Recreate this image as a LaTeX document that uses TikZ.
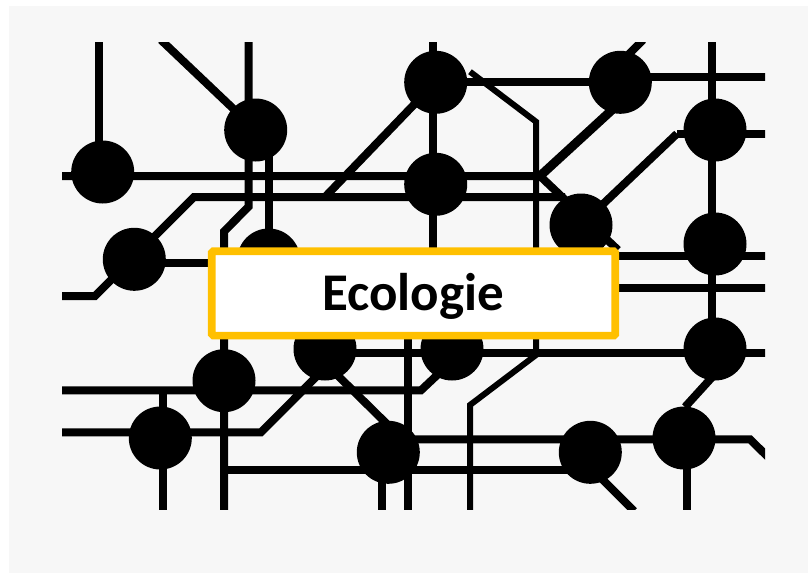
\documentclass[tikz,border=0pt]{standalone}
\usepackage{fontspec}
\setmainfont{Carlito}
\tikzset{
  bg/.style={fill=bgGray,draw=none},
  wire/.style={line width=8pt,line join=miter},
  thinwire/.style={line width=6pt,line join=miter},
  hub/.style={circle,fill=black,draw=none,minimum size=63pt,inner sep=0pt},
  titlebox/.style={draw=boxGold,fill=white,line width=7.7pt,rounded corners=1.5pt,minimum width=403.4pt,minimum height=84.4pt,inner sep=0pt},
  titletext/.style={font=\fontsize{53}{55}\selectfont\bfseries,text=black,inner sep=0pt,anchor=base}
}
\definecolor{bgGray}{HTML}{F7F7F7}
\definecolor{boxGold}{HTML}{FFC000}
\begin{document}
\begin{tikzpicture}[x=1pt,y=-1pt]
\useasboundingbox (0,0) rectangle (808,573);
\fill[white] (0,0) rectangle (808,573);
\fill[bg] (9,6) rectangle (808,573);
\begin{scope}
\clip (62,42) rectangle (765,509);
\coordinate (hA) at (102.7,172);
\coordinate (hB) at (255.7,130);
\coordinate (hC) at (435.7,82.3);
\coordinate (hD) at (435.7,184.3);
\coordinate (hE) at (620.3,82.3);
\coordinate (hF) at (715,130);
\coordinate (hG) at (581,225);
\coordinate (hH) at (715,244);
\coordinate (hI) at (134.3,259.3);
\coordinate (hJ) at (268.7,260);
\coordinate (hK) at (224,380.7);
\coordinate (hL) at (325,349);
\coordinate (hM) at (160.3,438);
\coordinate (hN) at (388.3,452.3);
\coordinate (hO) at (452,349);
\coordinate (hP) at (715,349);
\coordinate (hQ) at (590.3,452.3);
\coordinate (hR) at (684,438);
% vertical and top wires
\draw[wire] (98.7,40) -- (98.7,172);
\draw[wire] (161,40) -- (hB);
\draw[wire] (248.7,40) -- (248.7,206.5) -- (224,231.5) -- (224,511);
\draw[wire] (268.7,130) -- (268.7,260);
\draw[wire] (432.7,40) -- (432.7,349);
\draw[wire] (711.7,40) -- (711.7,349);
\draw[wire] (408,300) -- (408,511);
\draw[wire] (163,390) -- (163,511);
\draw[wire] (382.3,452) -- (382.3,511);
\draw[wire] (687,438) -- (687,511);
% horizontals and diagonals
\draw[wire] (60,176) -- (540,176) -- (618,250);
\draw[wire,line width=9pt] (625,98) -- (540,176);
\draw[wire] (643,40) -- (620,63);
\draw[wire] (60,296) -- (95,296) -- (194,197) -- (565,197);
\draw[wire] (325,197) -- (430,88);
\draw[wire] (hI) -- (134.3,263) -- (268.7,263);
\draw[wire] (hC) -- (hE);
\draw[wire] (620,77) -- (767,77);
\draw[wire] (677,133.7) -- (767,133.7);
\draw[wire] (677,133.7) -- (hG);
\draw[wire] (581,256) -- (767,256);
\draw[wire] (581,288.3) -- (767,288.3);
\draw[wire] (325,352.7) -- (767,352.7);
\draw[wire] (60,390.3) -- (421,390.3) -- (450,363);
\draw[wire] (60,432.3) -- (261,432.3) -- (325,368);
\draw[wire] (325,363) -- (390,427);
\draw[wire] (224,469.7) -- (590,469.7);
\draw[wire] (388,439.3) -- (750,439.3) -- (769,458);
\draw[wire] (590,467) -- (634,511);
\draw[wire] (715,374) -- (685,407);
% thin wire
\draw[thinwire] (470,71.7) -- (536,121.7) -- (536,355) -- (470,405) -- (470,511);
\end{scope}
\foreach \h in {A,B,C,D,E,F,G,H,I,J,K,L,M,N,O,P,Q,R}{
  \node[hub] (n\h) at (h\h) {};
}
\node[titlebox] (title) at (413.5,293.4) {};
\node[titletext] (label) at (413,310.5) {Ecologie};
\end{tikzpicture}
\end{document}
